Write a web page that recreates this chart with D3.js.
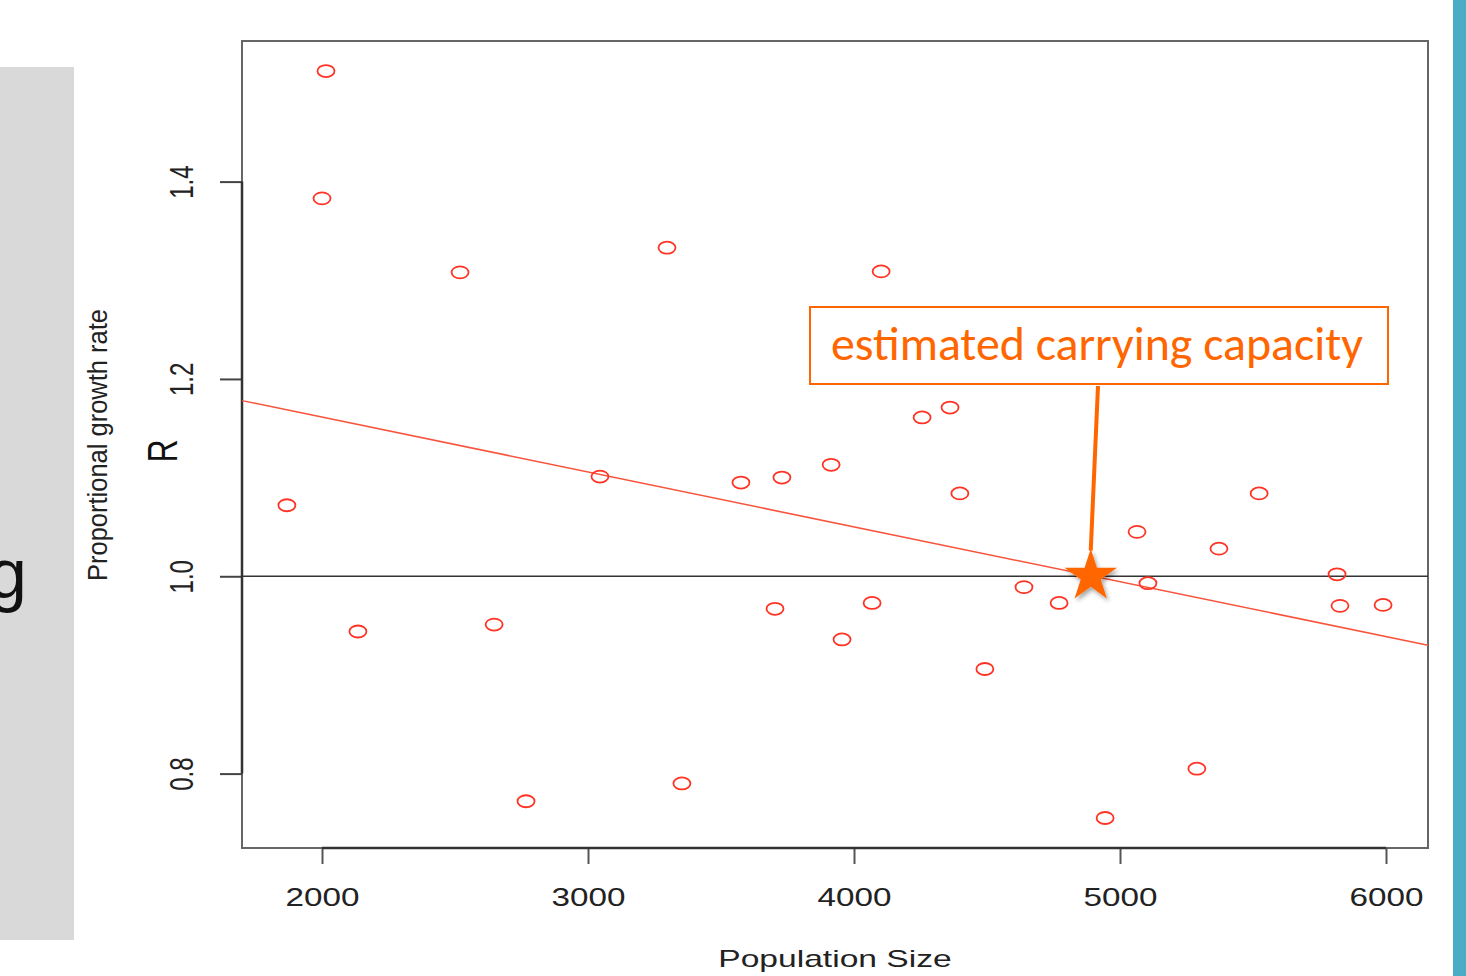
<!DOCTYPE html>
<html>
<head>
<meta charset="utf-8">
<script src="https://cdn.jsdelivr.net/npm/d3@7"></script>
<style>
  body { margin: 0; background: #fff; }
  svg { display: block; }
</style>
</head>
<body>
<div id="chart"></div>
<script>
// values
const popSize = [2015, 2000, 2519, 1868, 2135, 2647, 2767, 3045, 3297, 3353,
  3575, 3729, 3703, 3914, 3955, 4068, 4102, 4256, 4361, 4398, 4492, 4639,
  4771, 4944, 5064, 5105, 5289, 5372, 5523, 5816, 5827, 5989];
const growthR = [1.512, 1.383, 1.308, 1.072, 0.944, 0.951, 0.772, 1.101, 1.333, 0.790,
  1.095, 1.100, 0.967, 1.113, 0.936, 0.973, 1.309, 1.161, 1.171, 1.084, 0.906, 0.989,
  0.973, 0.755, 1.045, 0.993, 0.805, 1.028, 1.084, 1.002, 0.970, 0.971];
const xTicks = [2000, 3000, 4000, 5000, 6000];
const yTicks = [0.8, 1.0, 1.2, 1.4];
const fitCoef = [1.2725, -0.0000556]; // intercept, slope of lm line
const capacityK = 4890;
const xLabel = "Population Size";
const yLabel = "Proportional growth rate";
const yLabel2 = "R";
const noteText = "estimated carrying capacity";

const width = 1466;
const height = 976;
const plot = { left: 242, right: 1428, top: 41, bottom: 848 };
const ptColor = "#ff3324";
const orange = "#ff6600";
const axisFont = "'Liberation Sans', Arial, Helvetica, sans-serif";

const svg = d3.select("#chart").append("svg")
  .attr("width", width)
  .attr("height", height);

const defs = svg.append("defs");
defs.append("filter")
  .attr("id", "shadow")
  .attr("x", "-50%").attr("y", "-50%")
  .attr("width", "200%").attr("height", "200%")
  .append("feDropShadow")
  .attr("dx", 2).attr("dy", 3)
  .attr("stdDeviation", 2)
  .attr("flood-color", "#000")
  .attr("flood-opacity", 0.35);

// slide background bits (the big "g" is cut by the slide edge in the original too)
svg.append("rect")
  .attr("x", 0).attr("y", 67)
  .attr("width", 74).attr("height", 873)
  .attr("fill", "#d9d9d9");
svg.append("text")
  .attr("x", -12).attr("y", 598)
  .attr("font-family", axisFont)
  .attr("font-size", 70)
  .attr("fill", "#111")
  .text("g");
svg.append("rect")
  .attr("x", 1453).attr("y", 0)
  .attr("width", 13).attr("height", height)
  .attr("fill", "#4bacc6");

const xScale = d3.scaleLinear().domain([1699.2, 6157.9]).range([plot.left, plot.right]);
const yScale = d3.scaleLinear().domain([0.7246, 1.5425]).range([plot.bottom, plot.top]);

// plot box
svg.append("rect")
  .attr("x", plot.left).attr("y", plot.top)
  .attr("width", plot.right - plot.left)
  .attr("height", plot.bottom - plot.top)
  .attr("fill", "none")
  .attr("stroke", "#666")
  .attr("stroke-width", 2);

// x axis
const xAxis = d3.axisBottom(xScale)
  .tickValues(xTicks)
  .tickSize(16)
  .tickFormat(d3.format("d"));

svg.append("g")
  .attr("class", "x-axis")
  .attr("transform", `translate(0, ${plot.bottom})`)
  .call(xAxis)
  .call((g) => g.select(".domain").remove())
  .call((g) => g.selectAll(".tick line").attr("stroke", "#555").attr("stroke-width", 2))
  .call((g) =>
    g.selectAll(".tick text")
      .attr("y", 0).attr("dy", 0)
      .attr("transform", "translate(0, 58) scale(1.33, 1)")
      .attr("font-family", axisFont)
      .attr("font-size", 25)
      .attr("fill", "#222")
  );

svg.append("line")
  .attr("x1", xScale(xTicks[0])).attr("x2", xScale(xTicks[xTicks.length - 1]))
  .attr("y1", plot.bottom).attr("y2", plot.bottom)
  .attr("stroke", "#333").attr("stroke-width", 2.5);

// y axis
const yAxis = d3.axisLeft(yScale)
  .tickValues(yTicks)
  .tickSize(22)
  .tickFormat(d3.format(".1f"));

svg.append("g")
  .attr("class", "y-axis")
  .attr("transform", `translate(${plot.left}, 0)`)
  .call(yAxis)
  .call((g) => g.select(".domain").remove())
  .call((g) => g.selectAll(".tick line").attr("stroke", "#444").attr("stroke-width", 2))
  .call((g) =>
    g.selectAll(".tick text")
      .attr("x", 0).attr("dy", 0)
      .attr("text-anchor", "middle")
      .attr("transform", "translate(-49, 0) rotate(-90) scale(1, 1.42)")
      .attr("font-family", axisFont)
      .attr("font-size", 24)
      .attr("fill", "#222")
  );

svg.append("line")
  .attr("x1", plot.left).attr("x2", plot.left)
  .attr("y1", yScale(yTicks[0])).attr("y2", yScale(yTicks[yTicks.length - 1]))
  .attr("stroke", "#333").attr("stroke-width", 2.5);

// axis titles
svg.append("text")
  .attr("transform", `translate(${(plot.left + plot.right) / 2}, 967) scale(1.4, 1)`)
  .attr("text-anchor", "middle")
  .attr("font-family", axisFont)
  .attr("font-size", 24)
  .attr("fill", "#222")
  .text(xLabel);

svg.append("text")
  .attr("transform", "translate(107, 445) rotate(-90) scale(1, 1.12)")
  .attr("text-anchor", "middle")
  .attr("font-family", axisFont)
  .attr("font-size", 25.5)
  .attr("fill", "#222")
  .text(yLabel);

svg.append("text")
  .attr("transform", "translate(177, 451) rotate(-90) scale(1, 1.35)")
  .attr("text-anchor", "middle")
  .attr("font-family", axisFont)
  .attr("font-size", 32)
  .attr("fill", "#111")
  .text(yLabel2);

// reference line R = 1
svg.append("line")
  .attr("x1", plot.left).attr("x2", plot.right)
  .attr("y1", yScale(1)).attr("y2", yScale(1))
  .attr("stroke", "#333").attr("stroke-width", 1.5);

// regression line (abline)
const xDom = xScale.domain();
const fitLine = d3.line()
  .x((d) => xScale(d))
  .y((d) => yScale(fitCoef[0] + fitCoef[1] * d));

svg.append("path")
  .datum(xDom)
  .attr("fill", "none")
  .attr("stroke", "#f8533c")
  .attr("stroke-width", 1.5)
  .attr("d", fitLine);

// points (R pch=1, stretched horizontally)
svg.append("g")
  .selectAll("ellipse")
  .data(popSize.map((p, i) => ({ x: p, r: growthR[i] })))
  .enter()
  .append("ellipse")
  .attr("cx", (d) => xScale(d.x))
  .attr("cy", (d) => yScale(d.r))
  .attr("rx", 8.5)
  .attr("ry", 6)
  .attr("fill", "none")
  .attr("stroke", ptColor)
  .attr("stroke-width", 1.8);

// annotation
const boxX = 810, boxY = 307, boxW = 578, boxH = 77;
svg.append("rect")
  .attr("x", boxX).attr("y", boxY)
  .attr("width", boxW).attr("height", boxH)
  .attr("fill", "#fff")
  .attr("stroke", orange)
  .attr("stroke-width", 2);

const note = svg.append("text")
  .attr("x", boxX + 21).attr("y", 360)
  .attr("font-family", "Carlito, Calibri, Lato, 'Open Sans', sans-serif")
  .attr("font-size", 44)
  .attr("fill", orange)
  .text(noteText);
const noteLen = note.node().getComputedTextLength();
note.attr("font-size", 44 * 532 / noteLen);

const starR = 27.6;
const starX = xScale(capacityK);
const starY = yScale(1);

svg.append("line")
  .attr("x1", 1098).attr("y1", boxY + boxH + 2)
  .attr("x2", starX).attr("y2", starY - starR + 2)
  .attr("stroke", orange)
  .attr("stroke-width", 4);

svg.append("path")
  .attr("d", d3.symbol(d3.symbolStar).size((starR * starR) / 0.8908130915292852)())
  .attr("transform", `translate(${starX}, ${starY})`)
  .attr("fill", orange)
  .attr("filter", "url(#shadow)");
</script>
</body>
</html>
